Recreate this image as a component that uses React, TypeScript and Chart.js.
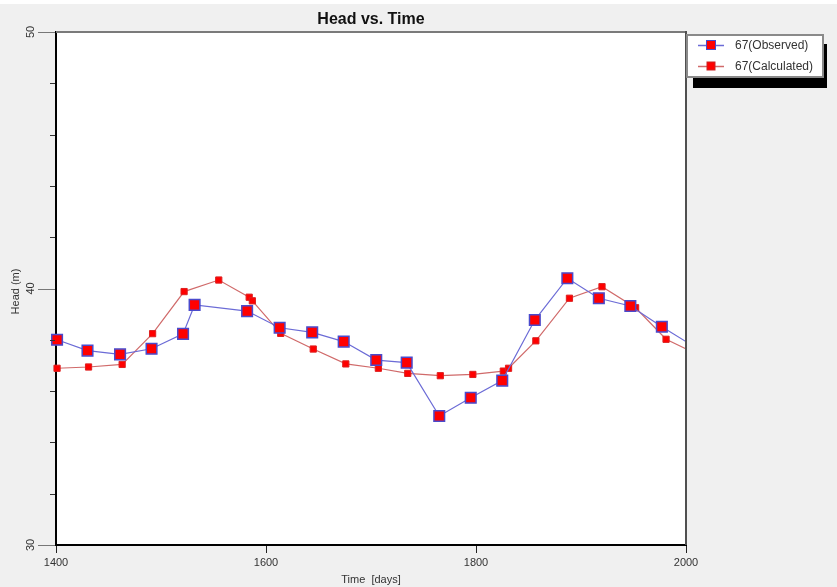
import React, { useEffect, useRef } from "react";
import { Chart, registerables } from "chart.js";

Chart.register(...registerables);

const obsX = [1401, 1430, 1461, 1491, 1521, 1532, 1582, 1613, 1644, 1674, 1705, 1734, 1765, 1795, 1825, 1856, 1887, 1917, 1947, 1977, 2007];
const obsY = [38.0, 37.58, 37.43, 37.65, 38.23, 39.36, 39.12, 38.47, 38.29, 37.93, 37.21, 37.11, 35.03, 35.74, 36.41, 38.77, 40.4, 39.62, 39.32, 38.51, 37.75];
const calcX = [1401, 1431, 1463, 1492, 1522, 1555, 1584, 1587, 1614, 1645, 1676, 1707, 1735, 1766, 1797, 1826, 1831, 1857, 1889, 1920, 1952, 1981, 2010];
const calcY = [36.89, 36.94, 37.04, 38.24, 39.88, 40.33, 39.66, 39.52, 38.25, 37.64, 37.06, 36.89, 36.69, 36.6, 36.65, 36.78, 36.89, 37.96, 39.62, 40.07, 39.25, 38.02, 37.45];
const seriesNames = ["67(Observed)", "67(Calculated)"];
const xTicks = [1400, 1600, 1800, 2000];
const yLabels = [30, 40, 50];
const titleText = "Head vs. Time";
const xTitle = "Time  [days]";
const yTitle = "Head (m)";

const FONT = "'Liberation Sans', Arial, sans-serif";
const BLUE_LINE = "#6b6bd6";
const BLUE_EDGE = "#4a4acc";
const RED_LINE = "#d06a6a";
const RED = "#ff0000";

const decor = {
  id: "decor",
  beforeDraw(chart: any) {
    const { ctx, chartArea: a, width, height } = chart;
    ctx.save();
    ctx.fillStyle = "#ffffff";
    ctx.fillRect(0, 0, width, height);
    ctx.fillStyle = "#f0f0f0";
    ctx.fillRect(0, 4, width, height - 4);
    ctx.fillStyle = "#ffffff";
    ctx.fillRect(a.left, a.top, a.right - a.left, a.bottom - a.top);
    ctx.restore();
  },
  afterDraw(chart: any) {
    const { ctx, chartArea: a } = chart;
    const ys = chart.scales.y;
    ctx.save();
    // top and right frame
    ctx.strokeStyle = "#7a7a7a";
    ctx.lineWidth = 2;
    ctx.beginPath();
    ctx.moveTo(a.left, a.top);
    ctx.lineTo(a.right, a.top);
    ctx.stroke();
    ctx.strokeStyle = "#505050";
    ctx.beginPath();
    ctx.moveTo(a.right, a.top - 1);
    ctx.lineTo(a.right, a.bottom);
    ctx.stroke();
    // y ticks
    ctx.lineWidth = 1;
    for (let v = 30; v <= 50; v += 2) {
      const py = Math.round(ys.getPixelForValue(v)) + 0.5;
      const major = v % 10 === 0;
      ctx.strokeStyle = major ? "#777" : "#333";
      ctx.beginPath();
      ctx.moveTo(major ? a.left - 18 : a.left - 6, py);
      ctx.lineTo(a.left - 1, py);
      ctx.stroke();
    }
    // y labels rotated
    ctx.fillStyle = "#333";
    ctx.font = `11px ${FONT}`;
    ctx.textAlign = "center";
    ctx.textBaseline = "middle";
    yLabels.forEach((v) => {
      const py = ys.getPixelForValue(v);
      ctx.save();
      ctx.translate(31, py);
      ctx.rotate(-Math.PI / 2);
      ctx.fillText(String(v), 0, 0);
      ctx.restore();
    });
    ctx.save();
    ctx.translate(16, (a.top + a.bottom) / 2 + 3);
    ctx.rotate(-Math.PI / 2);
    ctx.fillText(yTitle, 0, 0);
    ctx.restore();
    // title
    ctx.fillStyle = "#111";
    ctx.font = `bold 16px ${FONT}`;
    ctx.fillText(titleText, (a.left + a.right) / 2, 20);
    // legend
    const bx = 687, by = 35, bw = 136, bh = 42;
    ctx.fillStyle = "#000";
    ctx.fillRect(693, 44, 134, 44);
    ctx.fillStyle = "#fff";
    ctx.fillRect(bx, by, bw, bh);
    ctx.strokeStyle = "#8a8a8a";
    ctx.lineWidth = 2;
    ctx.strokeRect(bx, by, bw, bh);
    const entries = [
      { y: 45, line: BLUE_LINE, edge: BLUE_EDGE, size: 9 },
      { y: 66, line: RED_LINE, edge: "#cc2222", size: 8 },
    ];
    entries.forEach((e, i) => {
      ctx.strokeStyle = e.line;
      ctx.lineWidth = 1.5;
      ctx.beginPath();
      ctx.moveTo(698, e.y + 0.5);
      ctx.lineTo(724, e.y + 0.5);
      ctx.stroke();
      ctx.fillStyle = RED;
      ctx.fillRect(711 - e.size / 2, e.y - e.size / 2, e.size, e.size);
      ctx.strokeStyle = e.edge;
      ctx.lineWidth = 1;
      ctx.strokeRect(711 - e.size / 2, e.y - e.size / 2, e.size, e.size);
      ctx.fillStyle = "#333";
      ctx.font = `12px ${FONT}`;
      ctx.textAlign = "left";
      ctx.fillText(seriesNames[i], 735, e.y + 1);
    });
    ctx.restore();
  },
};

export default function App() {
  const ref = useRef<HTMLCanvasElement | null>(null);
  useEffect(() => {
    document.body.style.margin = "0";
    const canvas = ref.current!;
    const chart = new Chart(canvas, {
      type: "line",
      data: {
        datasets: [
          {
            label: seriesNames[0],
            data: obsX.map((x, i) => ({ x, y: obsY[i] })),
            borderColor: BLUE_LINE,
            borderWidth: 1.2,
            backgroundColor: RED,
            pointStyle: "rect",
            pointRadius: 7.5,
            pointBorderWidth: 1.5,
            pointBorderColor: BLUE_EDGE,
            pointBackgroundColor: RED,
            tension: 0,
            clip: { left: 10, top: 10, right: 0, bottom: 10 } as any,
          },
          {
            label: seriesNames[1],
            data: calcX.map((x, i) => ({ x, y: calcY[i] })),
            borderColor: RED_LINE,
            borderWidth: 1.2,
            backgroundColor: RED,
            pointStyle: "rect",
            pointRadius: 4.4,
            pointBorderWidth: 1,
            pointBorderColor: "#dd2020",
            pointBackgroundColor: RED,
            tension: 0,
            clip: { left: 10, top: 10, right: 0, bottom: 10 } as any,
          },
        ],
      },
      options: {
        responsive: false,
        animation: false,
        events: [],
        layout: { padding: { left: 0, top: 32, right: 151, bottom: 0 } },
        plugins: { legend: { display: false }, title: { display: false }, tooltip: { enabled: false } },
        scales: {
          x: {
            type: "linear",
            min: 1400,
            max: 2000,
            afterBuildTicks: (s: any) => {
              s.ticks = xTicks.map((v) => ({ value: v }));
            },
            ticks: {
              font: { family: FONT, size: 11 },
              color: "#333",
              padding: 3,
              maxRotation: 0,
              callback: (v: any) => String(v),
            },
            grid: { drawOnChartArea: false, drawTicks: true, tickLength: 8, color: "#222", lineWidth: 1 },
            border: { display: true, color: "#000", width: 2 },
            title: { display: true, text: xTitle, font: { family: FONT, size: 11 }, color: "#333", padding: { top: 2, bottom: 0 } },
            afterFit: (s: any) => {
              s.height = 42;
            },
          },
          y: {
            type: "linear",
            min: 30,
            max: 50,
            ticks: { display: false, stepSize: 2 },
            grid: { display: false },
            border: { display: true, color: "#000", width: 2 },
            afterFit: (s: any) => {
              s.width = 56;
            },
          },
        },
      },
      plugins: [decor],
    });
    return () => chart.destroy();
  }, []);
  return (
    <div style={{ position: "absolute", left: 0, top: 0, width: 837, height: 587 }}>
      <canvas ref={ref} width={837} height={587} />
    </div>
  );
}
